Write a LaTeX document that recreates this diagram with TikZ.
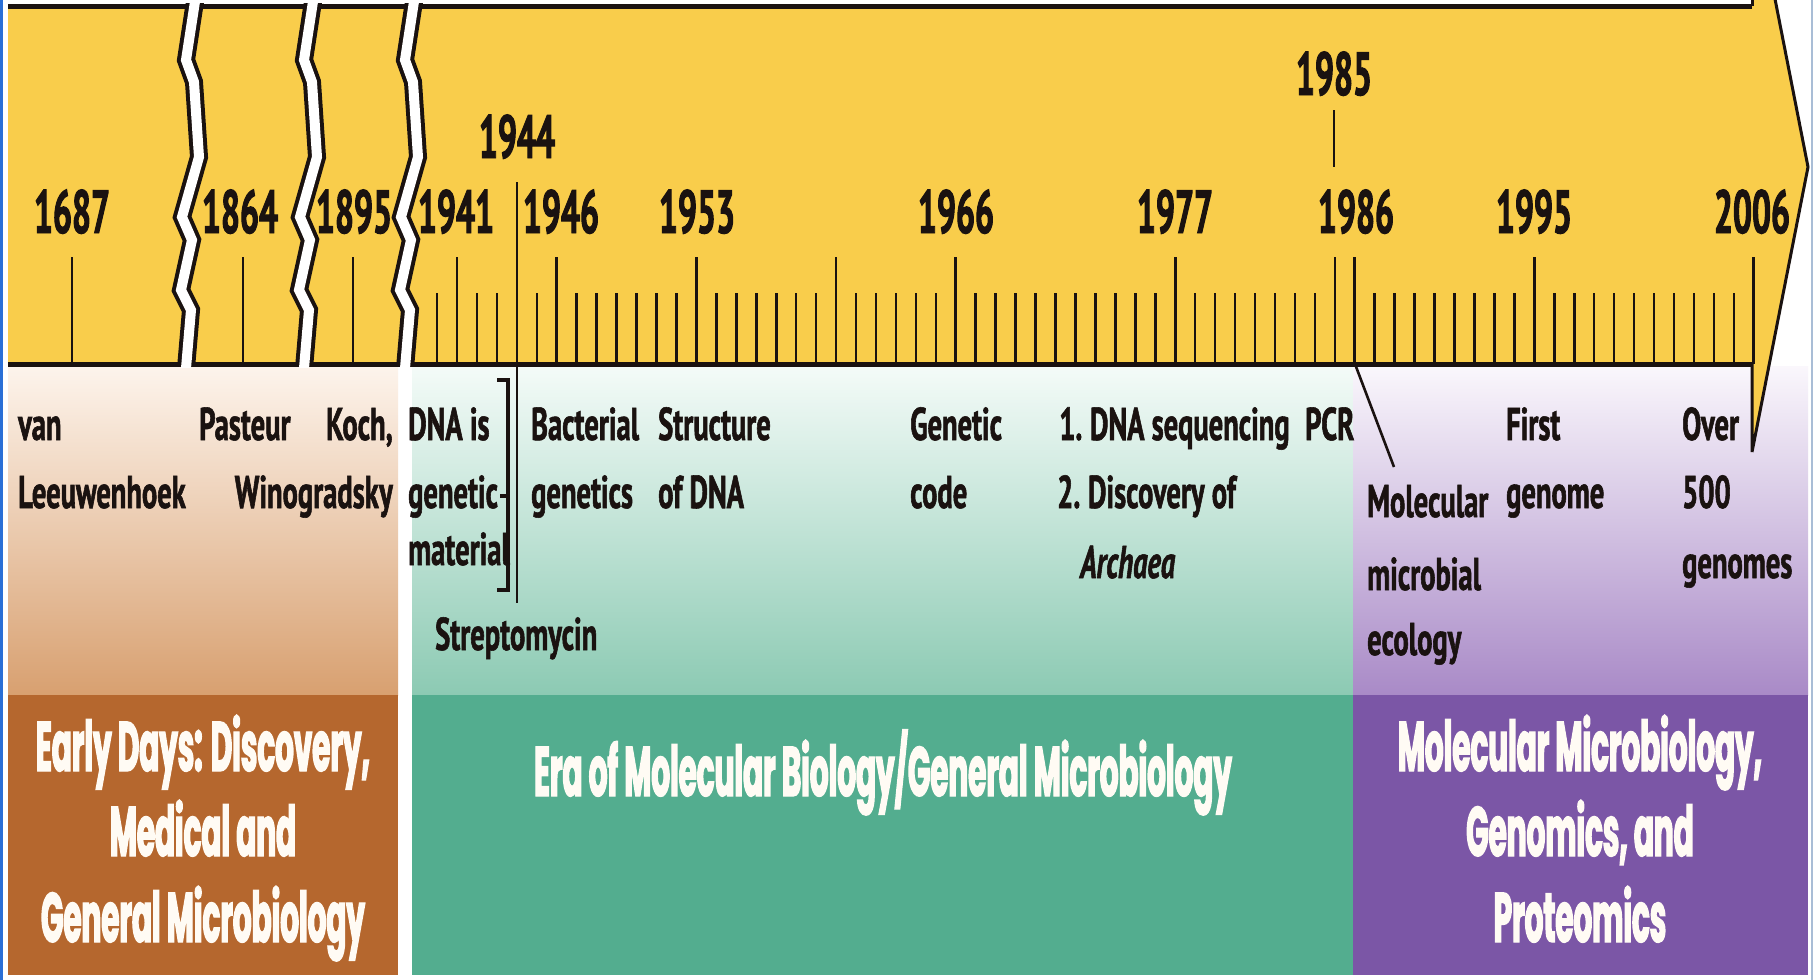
\documentclass[tikz,border=0pt]{standalone}
\usepackage{fontspec}
\newfontfamily\labfont{PT Sans}[FakeStretch=0.62, FakeBold=1.2]
\newfontfamily\yrfont{PT Sans}[FakeStretch=0.55, FakeBold=1.6]
\newfontfamily\ttlfont{Poppins}[FakeStretch=0.42, FakeBold=1.8]
\definecolor{barY}{HTML}{F9CD4B}
\definecolor{brTop}{HTML}{FDF4EC}
\definecolor{brBot}{HTML}{D8A070}
\definecolor{brBand}{HTML}{B5672E}
\definecolor{grTop}{HTML}{F4FBF8}
\definecolor{grBot}{HTML}{8CCAB3}
\definecolor{grBand}{HTML}{53AD8F}
\definecolor{puTop}{HTML}{FAF7FC}
\definecolor{puBot}{HTML}{A98AC7}
\definecolor{puBand}{HTML}{7B56A6}
\definecolor{inkK}{HTML}{1A1210}
\definecolor{sideB}{HTML}{2A6FD6}
\definecolor{sideR}{HTML}{A9BDD6}
\definecolor{ttlW}{HTML}{FFFBF4}
\begin{document}
\begin{tikzpicture}[x=1pt,y=-1pt,
  lab/.style={font=\labfont\bfseries\fontsize{46}{46}\selectfont, text=inkK, inner sep=0pt, anchor=base west},
  labr/.style={lab, anchor=base east},
  yr/.style={font=\yrfont\bfseries\fontsize{61}{61}\selectfont, text=inkK, inner sep=0pt, anchor=base},
  ttl/.style={font=\ttlfont\bfseries\fontsize{70}{70}\selectfont, text=ttlW, inner sep=0pt, anchor=base},
  tick/.style={draw=inkK, line width=2.6pt},
  border/.style={draw=inkK, line width=5pt},
  edge/.style={draw=inkK, line width=3pt, line join=miter},
  brack/.style={draw=inkK, line width=3.8pt, line join=miter}
]
\useasboundingbox (0,0) rectangle (1816,980);
\clip (0,0) rectangle (1816,980);
\fill[white] (0,0) rectangle (1816,980);

% panels
\shade[top color=brTop, bottom color=brBot] (8,366) rectangle (398,695);
\fill[brBand] (8,695) rectangle (398,975);
\shade[top color=grTop, bottom color=grBot] (412,366) rectangle (1353,695);
\fill[grBand] (412,695) rectangle (1353,975);
\shade[top color=puTop, bottom color=puBot] (1353,366) rectangle (1808,695);
\fill[puBand] (1353,695) rectangle (1808,975);

% bar
\fill[barY] (8,6) rectangle (1752,364);
\fill[barY] (1752,-118) -- (1808,167) -- (1752,452) -- cycle;
\draw[edge] (1752,-118) -- (1808,167) -- (1752,452) -- (1752,364);
\draw[edge] (1752,-118) -- (1752,6);

% ticks
\foreach \x in {72,243,353} { \draw[tick] (\x,257) -- (\x,364); }
\foreach \yr in {1940,...,2006} { \draw[tick] ({457+(\yr-1941)*19.95},293) -- ({457+(\yr-1941)*19.95},364); }
\foreach \yr in {1941,1946,1953,1960,1966,1977,1985,1986,1995,2006} { \draw[tick] ({457+(\yr-1941)*19.95},257) -- ({457+(\yr-1941)*19.95},364); }
\coordinate (k85a) at (1334,110);
\coordinate (k85b) at (1334,167);
\draw[tick] (k85a) -- (k85b);

\draw[border] (8,6) -- (1752,6);
\draw[border] (8,364) -- (1752,364);

% breaks
\begin{scope}
\clip (0,3.5) rectangle (1816,366.5);
\foreach \cx in {196,314,415} {
  \draw[draw=inkK, line width=18pt, line join=miter] (\cx,-5) -- (\cx-10,60) -- (\cx-2,82) -- (\cx+3,157) -- (\cx-14,217) -- (\cx-4,240) -- (\cx-15,290) -- (\cx-5,310) -- (\cx-11,380);
}
\end{scope}
\begin{scope}
\clip (0,-5) rectangle (1816,367);
\foreach \cx in {196,314,415} {
  \draw[draw=white, line width=10pt, line join=miter] (\cx,-5) -- (\cx-10,60) -- (\cx-2,82) -- (\cx+3,157) -- (\cx-14,217) -- (\cx-4,240) -- (\cx-15,290) -- (\cx-5,310) -- (\cx-11,380);
}
\end{scope}

% side lines
\draw[draw=sideB, line width=2.5pt] (1.25,0) -- (1.25,980);
\draw[draw=sideR, line width=1.5pt] (1812,0) -- (1812,980);

% years
\node[yr] (y1687) at (72,233) {1687};
\node[yr] (y1864) at (240,233) {1864};
\node[yr] (y1895) at (354,233) {1895};
\node[yr] (y1941) at (456,233) {1941};
\node[yr] (y1944) at (517,158) {1944};
\node[yr] (y1946) at (561,233) {1946};
\node[yr] (y1953) at (697,233) {1953};
\node[yr] (y1966) at (956,233) {1966};
\node[yr] (y1977) at (1175,233) {1977};
\node[yr] (y1985) at (1334,95) {1985};
\node[yr] (y1986) at (1356,233) {1986};
\node[yr] (y1995) at (1534,233) {1995};
\node[yr] (y2006) at (1752,233) {2006};

% 1944 line and bracket
\coordinate (c44a) at (517,182);
\coordinate (c44b) at (517,603);
\draw[tick] (c44a) -- (c44b);
\coordinate (bk1) at (497,380);
\coordinate (bk2) at (508,380);
\coordinate (bk3) at (508,590);
\coordinate (bk4) at (497,590);
\coordinate (bkm) at (500,496);
\coordinate (bkn) at (508,496);
\draw[brack] (bk1) -- (bk2) -- (bk3) -- (bk4);
\draw[brack] (bkm) -- (bkn);

% diagonal
\coordinate (d1) at (1355,364);
\coordinate (d2) at (1394,467);
\draw[tick] (d1) -- (d2);

% event labels
\node[lab] (van1) at (18,440) {van};
\node[lab] (van2) at (18,508) {Leeuwenhoek};
\node[lab] (pas) at (199,440) {Pasteur};
\node[labr] (koch1) at (393,440) {Koch,};
\node[labr] (koch2) at (393,508) {Winogradsky};
\node[lab] (dna1) at (408,440) {DNA is};
\node[lab] (dna2) at (408,508) {genetic};
\node[lab] (dna3) at (408,565) {material};
\node[lab] (strep) at (435,650) {Streptomycin};
\node[lab] (bac1) at (531,440) {Bacterial};
\node[lab] (bac2) at (531,508) {genetics};
\node[lab] (str1) at (658,440) {Structure};
\node[lab] (str2) at (658,508) {of DNA};
\node[lab] (gen1) at (910,440) {Genetic};
\node[lab] (gen2) at (910,508) {code};
\node[lab] (seq1) at (1059,440) {1.\,DNA sequencing};
\node[lab] (seq2) at (1057,508) {2.\,Discovery of};
\node[lab, font=\labfont\bfseries\itshape\fontsize{46}{46}\selectfont] (seq3) at (1080,578) {Archaea};
\node[lab] (pcr) at (1305,440) {PCR};
\node[lab] (mol1) at (1367,517) {Molecular};
\node[lab] (mol2) at (1367,590) {microbial};
\node[lab] (mol3) at (1367,655) {ecology};
\node[lab] (fg1) at (1506,440) {First};
\node[lab] (fg2) at (1506,508) {genome};
\node[lab] (ov1) at (1682,440) {Over};
\node[lab] (ov2) at (1682,508) {500};
\node[lab] (ov3) at (1682,578) {genomes};

% era titles
\node[ttl] (t1a) at (203,771) {Early Days: Discovery,};
\node[ttl] (t1b) at (203,856) {Medical and};
\node[ttl] (t1c) at (203,942) {General Microbiology};
\node[ttl] (t2) at (883,796) {Era of Molecular Biology/General Microbiology};
\node[ttl] (t3a) at (1580,771) {Molecular Microbiology,};
\node[ttl] (t3b) at (1580,856) {Genomics, and};
\node[ttl] (t3c) at (1580,942) {Proteomics};
\end{tikzpicture}
\end{document}
